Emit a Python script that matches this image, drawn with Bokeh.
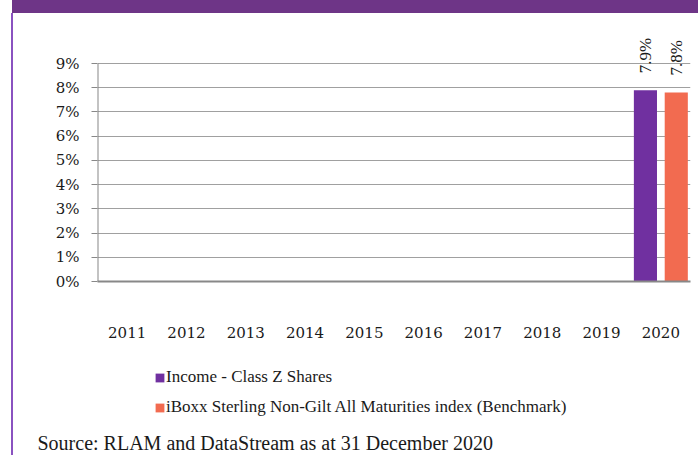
from bokeh.plotting import figure
from bokeh.layouts import column, row
from bokeh.models import (FactorRange, ColumnDataSource, LabelSet, Label, Legend, LegendItem,
                          FixedTicker, Range1d)
from bokeh.transform import dodge
from bokeh.embed import file_html
from bokeh.resources import INLINE

years = ["2011", "2012", "2013", "2014", "2015", "2016", "2017", "2018", "2019", "2020"]
fund = [float("nan")] * 9 + [7.9]
bench = [float("nan")] * 9 + [7.8]
fund_name = "Income - Class Z Shares"
bench_name = "iBoxx Sterling Non-Gilt All Maturities index (Benchmark)"
source_text = "Source: RLAM and DataStream as at 31 December 2020"
y_ticks = [0, 1, 2, 3, 4, 5, 6, 7, 8, 9]

PURPLE = "#7030A0"
ORANGE = "#F26B50"

def lab(v):
    return "" if v != v else f"{v:.1f}%"

src = ColumnDataSource(dict(
    year=years, fund=fund, bench=bench,
    fund_lab=[lab(v) for v in fund], bench_lab=[lab(v) for v in bench],
))

deco = ("linear-gradient(#6E3587,#6E3587) 12px 0px / 686px 13px no-repeat, "
        "linear-gradient(#8A52C0,#8A52C0) 11px 13px / 2px 442px no-repeat, white")

# ---- main chart ----
y_top = y_ticks[-1] * 261 / 218   # extra head-room above 9% for the value labels
p = figure(width=698, height=350, x_range=FactorRange(*years, range_padding=0),
           y_range=Range1d(0, y_top), output_backend="svg", toolbar_location=None,
           min_border_left=97, min_border_right=8, min_border_top=20, min_border_bottom=69)
p.outline_line_color = None
p.background_fill_alpha = 0
p.border_fill_alpha = 0

r1 = p.vbar(x=dodge("year", -0.26, range=p.x_range), top="fund", width=0.39, source=src,
            fill_color=PURPLE, line_color=None)
r2 = p.vbar(x=dodge("year", 0.26, range=p.x_range), top="bench", width=0.39, source=src,
            fill_color=ORANGE, line_color=None)

# y axis line only over the 0-9% span
p.segment(x0=[0], x1=[0], y0=[y_ticks[0]], y1=[y_ticks[-1]], line_color="#888888", line_width=2)

for col, txt, off in (("fund", "fund_lab", -0.26), ("bench", "bench_lab", 0.26)):
    ls = LabelSet(x=dodge("year", off, range=p.x_range), y=col, text=txt, source=src,
                  angle=1.5708, text_align="left", text_baseline="middle", y_offset=17,
                  text_font="Liberation Sans", text_font_size="17px", text_color="#1a1a1a")
    p.add_layout(ls)

p.xgrid.grid_line_color = None
p.ygrid.grid_line_color = "#a0a0a0"
p.ygrid.grid_line_width = 1
p.yaxis.ticker = FixedTicker(ticks=y_ticks)
p.ygrid.ticker = FixedTicker(ticks=y_ticks)
p.yaxis.major_label_overrides = {t: f"{t}%" for t in y_ticks}
p.yaxis.axis_line_color = None
p.yaxis.major_tick_line_color = "#888888"
p.yaxis.major_tick_out = 6
p.yaxis.major_tick_in = 0
p.yaxis.minor_tick_line_color = None
p.yaxis.major_label_standoff = 12
p.yaxis.major_label_text_font = "DejaVu Serif"
p.yaxis.major_label_text_font_size = "15px"
p.yaxis.major_label_text_color = "#1a1a1a"

p.xaxis.axis_line_color = "#888888"
p.xaxis.axis_line_width = 2
p.xaxis.major_tick_line_color = None
p.xaxis.minor_tick_line_color = None
p.xaxis.major_label_standoff = 39
p.xaxis.major_label_text_font = "DejaVu Serif"
p.xaxis.major_label_text_font_size = "15px"
p.xaxis.major_label_text_color = "#1a1a1a"

# ---- legend + source ----
p2 = figure(width=698, height=105, x_range=FactorRange(*years, range_padding=0),
            y_range=Range1d(100, 101), x_axis_type=None, y_axis_type=None,
            output_backend="svg", toolbar_location=None, min_border=0)
p2.outline_line_color = None
p2.background_fill_alpha = 0
p2.border_fill_alpha = 0
p2.grid.visible = False

k1 = p2.vbar(x="year", top="fund", width=0.39, source=src, fill_color=PURPLE, line_color=None)
k2 = p2.vbar(x="year", top="bench", width=0.39, source=src, fill_color=ORANGE, line_color=None)

legend = Legend(items=[LegendItem(label=fund_name, renderers=[k1]),
                       LegendItem(label=bench_name, renderers=[k2])],
                location=(154, 38), orientation="vertical",
                glyph_width=11, glyph_height=11, label_height=20, spacing=10,
                label_standoff=1, padding=0, margin=0,
                border_line_color=None, background_fill_alpha=0,
                label_text_font="Liberation Serif", label_text_font_size="17px",
                label_text_color="#1a1a1a")
p2.add_layout(legend)

p2.add_layout(Label(x=37, y=13, x_units="screen", y_units="screen", text=source_text,
                    text_font="Liberation Serif", text_font_size="20px", text_color="#1a1a1a",
                    text_baseline="middle"))

layout = column(p, row(p2), spacing=0, styles={"background": deco})

open("out.html", "w").write(file_html(layout, INLINE))
